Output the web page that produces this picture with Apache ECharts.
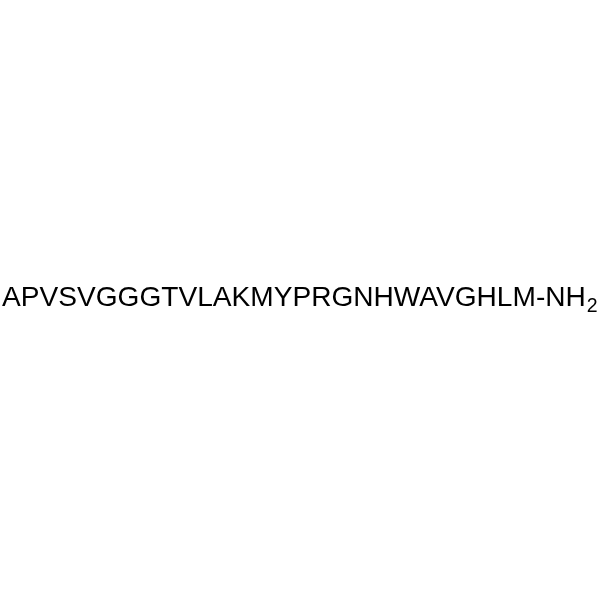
<!DOCTYPE html>
<html>
<head>
<meta charset="utf-8">
<script src="https://cdn.jsdelivr.net/npm/echarts@6/dist/echarts.min.js"></script>
<style>html,body{margin:0;padding:0;background:#fff}#c{width:600px;height:600px}</style>
</head>
<body>
<div id="c"></div>
<script>
var sequence = 'APVSVGGGTVLAKMYPRGNHWAVGHLM';
var suffix = '-NH';
var subscript = '2';

var chart = echarts.init(document.getElementById('c'), null, {renderer: 'canvas'});
chart.setOption({
  backgroundColor: '#ffffff',
  animation: false,
  graphic: [{
    type: 'text',
    left: 2,
    top: 284,
    style: {
      text: '{m|' + sequence + suffix + '}{s|' + subscript + '}',
      fontFamily: 'Arial, "Liberation Sans", sans-serif',
      fill: '#000',
      rich: {
        m: {fontSize: 28.1, lineHeight: 28, verticalAlign: 'top', fill: '#000', fontFamily: 'Arial, "Liberation Sans", sans-serif'},
        s: {fontSize: 19.5, lineHeight: 19, padding: [13, 0, 0, 1], verticalAlign: 'top', fill: '#000', fontFamily: 'Arial, "Liberation Sans", sans-serif'}
      }
    }
  }]
});
</script>
</body>
</html>
